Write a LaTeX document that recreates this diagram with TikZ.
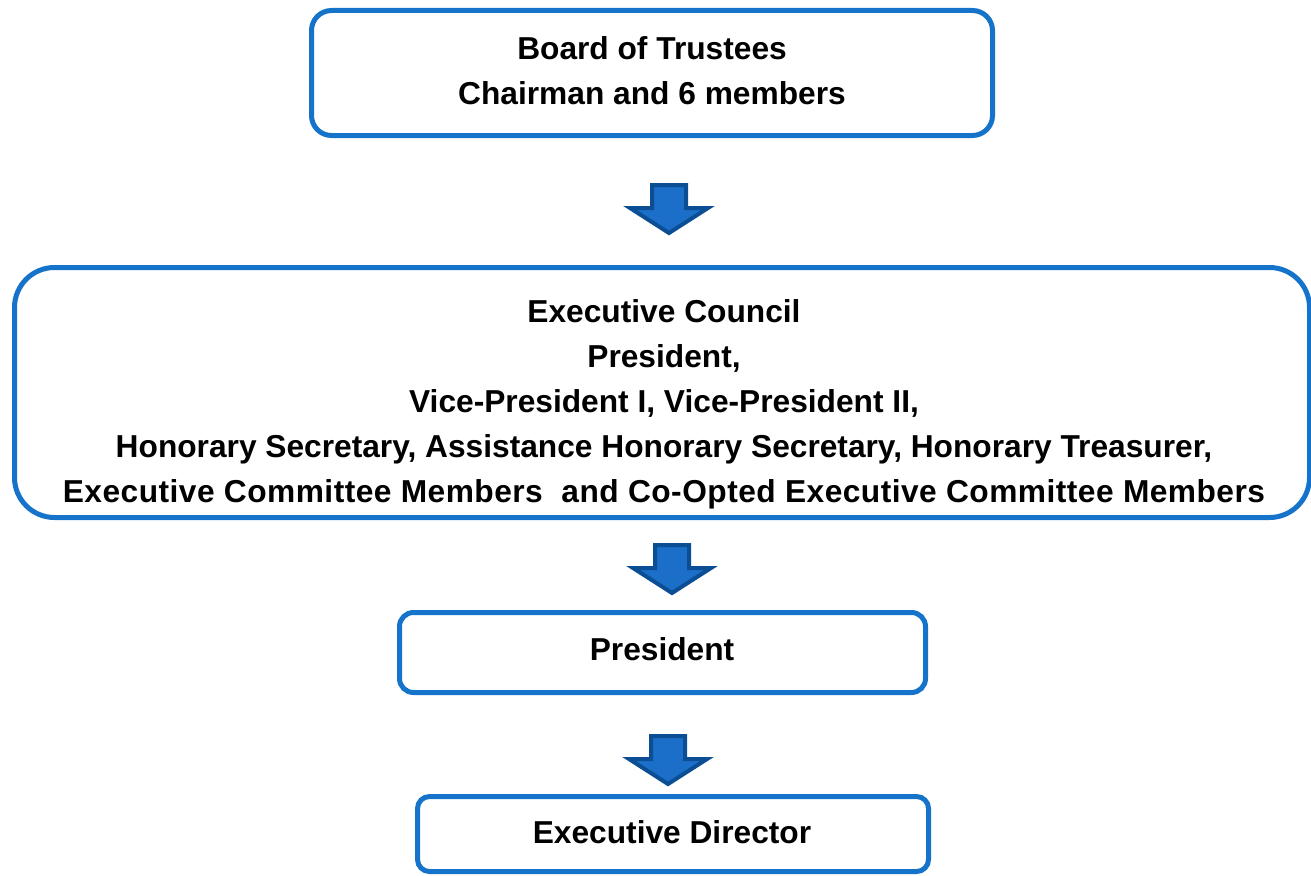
\documentclass[tikz,border=0pt]{standalone}
\usepackage{fontspec}
\setmainfont{Liberation Sans}
\usepackage{tikz}
\usetikzlibrary{positioning}
\definecolor{boxblue}{RGB}{22,115,202}
\definecolor{arrowfill}{RGB}{27,111,200}
\definecolor{arrowedge}{RGB}{12,78,148}
\tikzset{
	orgtext/.style = {align=center, inner sep=0pt, text centered,
		font=\fontsize{31.7}{45}\selectfont\bfseries},
	orgbox/.style = {draw=boxblue, line width=5pt, rounded corners=#1,
		inner sep=0pt, fill=white},
	downarrow/.pic = {
		\filldraw[fill=arrowfill, draw=arrowedge, line width=4pt]
		(-17,2) -- (17,2) -- (17,25) -- (39,25) -- (0,50) -- (-39,25) -- (-17,25) -- cycle;
	}
}
\begin{document}
\begin{tikzpicture}[x=1pt,y=-1pt]
\useasboundingbox (0,0) rectangle (1311,875);
% boxes
\node [orgbox=20pt, minimum width=681pt, minimum height=125pt] (board) at (652,73) {};
\node [orgtext] (boardtext) at (652,70.5) {Board of Trustees\\Chairman and 6 members};
\node [orgbox=40pt, minimum width=1295pt, minimum height=250pt] (council) at (662,392.5) {};
\node [orgtext] (counciltext) at (664,404) {Executive Council\\President,\\
	Vice-President I, Vice-President II,\\
	Honorary Secretary, Assistance Honorary Secretary, Honorary Treasurer,\\
	{\addfontfeature{LetterSpace=1.5}Executive Committee Members~ and Co-Opted Executive Committee Members}};
\node [orgbox=14pt, minimum width=526pt, minimum height=80pt] (president) at (662.5,652.5) {};
\node [orgtext] (presidenttext) at (662,649) {President};
\node [orgbox=12pt, minimum width=511pt, minimum height=75pt] (director) at (673,834) {};
\node [orgtext] (directortext) at (672,832) {Executive Director};
% arrows
\pic at (669,183) {downarrow};
\pic at (672,543) {downarrow};
\pic at (668,734) {downarrow};
\end{tikzpicture}
\end{document}
